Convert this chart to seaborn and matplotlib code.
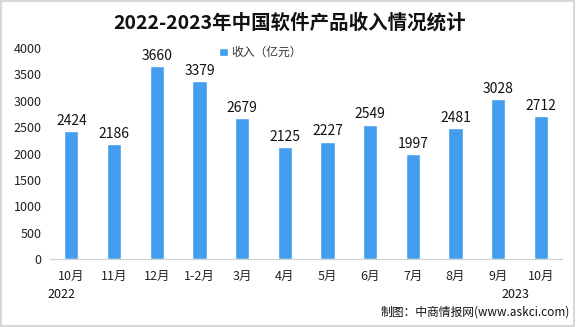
import matplotlib
matplotlib.use("Agg")
import matplotlib.pyplot as plt
import seaborn as sns
import pandas as pd

months = ["10月", "11月", "12月", "1-2月", "3月", "4月", "5月", "6月", "7月", "8月", "9月", "10月"]
revenue = [2424, 2186, 3660, 3379, 2679, 2125, 2227, 2549, 1997, 2481, 3028, 2712]
series_name = "收入（亿元）"
yticks = [0, 500, 1000, 1500, 2000, 2500, 3000, 3500, 4000]

sns.set_theme(style="white")
plt.rcParams["font.family"] = ["Noto Sans CJK SC", "DejaVu Sans"]

df = pd.DataFrame({"pos": [f"{i}_{m}" for i, m in enumerate(months)],
                   "value": revenue, "series": series_name})

fig = plt.figure(figsize=(5.76, 3.27), dpi=100)
fig.patch.set_facecolor("white")
ax = fig.add_axes([0.087, 0.208, 0.889, 0.645])

sns.barplot(data=df, x="pos", y="value", hue="series", palette=["#459DF0"],
            width=0.33, ax=ax, saturation=1)

ax.set_ylim(0, 4000)
ax.set_yticks(yticks)
ax.set_yticklabels([str(v) for v in yticks], fontsize=9, color="#222222")
ax.set_xticks(range(len(months)))
ax.set_xticklabels(months, fontsize=9, color="#222222")
ax.set_xlabel("")
ax.set_ylabel("")
ax.tick_params(axis="both", length=0, pad=6)
ax.tick_params(axis="x", pad=8)
for s in ["left", "right", "top"]:
    ax.spines[s].set_visible(False)
ax.spines["bottom"].set_color("#D0D0D0")
ax.spines["bottom"].set_linewidth(0.8)

for i, v in enumerate(revenue):
    ax.text(i, v + 60, str(v), ha="center", va="bottom", fontsize=10, color="#111111")

leg = ax.legend(loc="upper left", bbox_to_anchor=(0.31, 1.06), frameon=False,
                fontsize=8.5, handlelength=0.7, handleheight=0.7, handletextpad=0.3)
for t in leg.get_texts():
    t.set_color("#333333")

fig.text(0.503, 0.932, "2022-2023年中国软件产品收入情况统计", ha="center", va="center",
         fontsize=14, fontweight="bold", color="#111111")
fig.text(0.107, 0.098, "2022", ha="center", va="center", fontsize=9, color="#111111")
fig.text(0.895, 0.098, "2023", ha="center", va="center", fontsize=9, color="#111111")
fig.text(0.99, 0.046, "制图：中商情报网(www.askci.com)", ha="right", va="center",
         fontsize=8.5, color="#111111")

border = plt.Rectangle((0.002, 0.003), 0.995, 0.993, transform=fig.transFigure,
                       fill=False, edgecolor="#D8D8D8", linewidth=1.5)
fig.patches.append(border)

fig.savefig("out.png", dpi=100)
